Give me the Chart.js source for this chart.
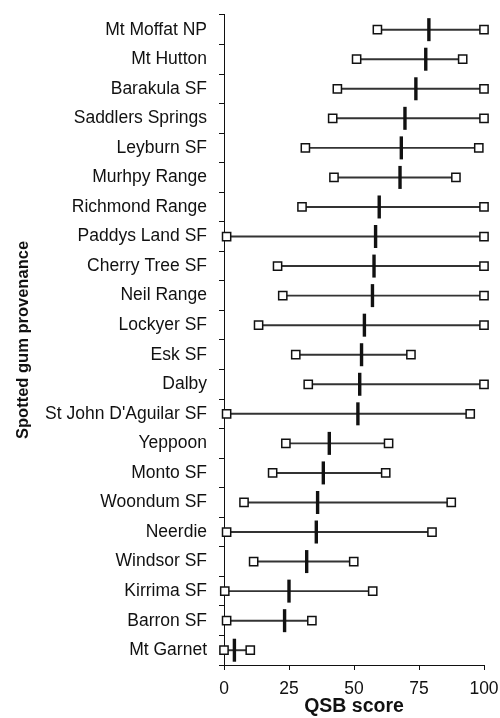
<!DOCTYPE html>
<html lang="en">
<head>
    <meta charset="UTF-8">
    <title>QSB score by spotted gum provenance</title>
    <script src="https://cdn.jsdelivr.net/npm/chart.js"></script>
    <style>
        body {
            margin: 0;
            padding: 0;
            background: #fff;
        }

        .chart-container {
            width: 500px;
            height: 718px;
        }
    </style>
</head>
<body>

    <div class="chart-container">
        <canvas id="qsbChart"></canvas>
    </div>

    <script>
        // Provenances, top to bottom
        const provenances = [
            'Mt Moffat NP', 'Mt Hutton', 'Barakula SF', 'Saddlers Springs', 'Leyburn SF',
            'Murhpy Range', 'Richmond Range', 'Paddys Land SF', 'Cherry Tree SF', 'Neil Range',
            'Lockyer SF', 'Esk SF', 'Dalby', "St John D'Aguilar SF", 'Yeppoon', 'Monto SF',
            'Woondum SF', 'Neerdie', 'Windsor SF', 'Kirrima SF', 'Barron SF', 'Mt Garnet'
        ];

        // QSB scores
        const minScores  = [59, 51, 43.6, 41.8, 31.3, 42.3, 30, 1, 20.6, 22.6, 13.3, 27.6, 32.4, 1, 23.8, 18.7, 7.7, 1, 11.4, 0.3, 1, 0];
        const meanScores = [78.8, 77.6, 73.8, 69.6, 68.2, 67.7, 59.7, 58.3, 57.7, 57.1, 54, 52.9, 52.2, 51.5, 40.5, 38.2, 36, 35.5, 31.8, 25, 23.3, 4];
        const maxScores  = [100, 91.8, 100, 100, 98, 89.2, 100, 100, 100, 100, 100, 71.9, 100, 94.7, 63.3, 62.2, 87.4, 80, 49.9, 57.2, 33.8, 10.1];
        const xTicks = [0, 25, 50, 75, 100];

        const fontFamily = '"Liberation Sans", Arial, Helvetica, sans-serif';
        const ink = '#111';

        const asPoints = values => values.map((v, i) => ({ x: v, y: provenances[i] }));

        const squareStyle = {
            type: 'line',
            showLine: false,
            clip: false,
            pointStyle: 'rect',
            pointRadius: 5.8,
            pointBorderWidth: 1.5,
            pointBorderColor: ink,
            pointBackgroundColor: '#fff',
            order: 2
        };

        new Chart(document.getElementById('qsbChart'), {
            type: 'bar',
            data: {
                labels: provenances,
                datasets: [
                    {
                        // range line from min to max
                        label: 'Range',
                        data: provenances.map((p, i) => [minScores[i], maxScores[i]]),
                        backgroundColor: '#333',
                        barThickness: 1.3,
                        borderSkipped: false,
                        order: 3
                    },
                    Object.assign({ label: 'Min', data: asPoints(minScores) }, squareStyle),
                    Object.assign({ label: 'Max', data: asPoints(maxScores) }, squareStyle),
                    {
                        type: 'line',
                        label: 'Mean',
                        data: asPoints(meanScores),
                        showLine: false,
                        clip: false,
                        pointStyle: 'line',
                        pointRotation: 90,
                        pointRadius: 11.5,
                        pointBorderWidth: 3.4,
                        pointBorderColor: ink,
                        order: 1
                    }
                ]
            },
            options: {
                indexAxis: 'y',
                responsive: true,
                maintainAspectRatio: false,
                animation: false,
                events: [],
                layout: {
                    padding: { left: 0, right: 16, top: 14, bottom: 0 }
                },
                plugins: {
                    legend: { display: false },
                    tooltip: { enabled: false }
                },
                scales: {
                    x: {
                        type: 'linear',
                        min: 0,
                        max: 100,
                        afterBuildTicks: scale => {
                            scale.ticks = xTicks.map(v => ({ value: v }));
                        },
                        afterFit: scale => {
                            // fixed plot box, as in the original figure
                            scale.height = 53;
                            scale.paddingLeft = 0;
                            scale.paddingRight = 0;
                        },
                        border: { display: true, color: ink, width: 1 },
                        grid: {
                            drawOnChartArea: false,
                            drawTicks: true,
                            tickLength: 5,
                            color: ink
                        },
                        ticks: {
                            color: ink,
                            padding: 9,
                            maxRotation: 0,
                            font: { family: fontFamily, size: 17.5 }
                        },
                        title: {
                            display: true,
                            text: 'QSB score',
                            color: ink,
                            padding: { top: -4, bottom: 0 },
                            font: { family: fontFamily, size: 19.5, weight: 'bold' }
                        }
                    },
                    y: {
                        type: 'category',
                        offset: true,
                        afterFit: scale => {
                            scale.width = 224;
                            scale.paddingTop = 0;
                            scale.paddingBottom = 0;
                        },
                        border: { display: true, color: ink, width: 1 },
                        grid: {
                            offset: true,
                            drawOnChartArea: false,
                            drawTicks: true,
                            tickLength: 5,
                            color: ink
                        },
                        ticks: {
                            color: ink,
                            padding: 12,
                            autoSkip: false,
                            font: { family: fontFamily, size: 17.5 }
                        },
                        title: {
                            display: true,
                            text: 'Spotted gum provenance',
                            color: ink,
                            padding: { top: 14, bottom: 0 },
                            font: { family: fontFamily, size: 16.5, weight: 'bold' }
                        }
                    }
                }
            }
        });
    </script>

</body>
</html>
